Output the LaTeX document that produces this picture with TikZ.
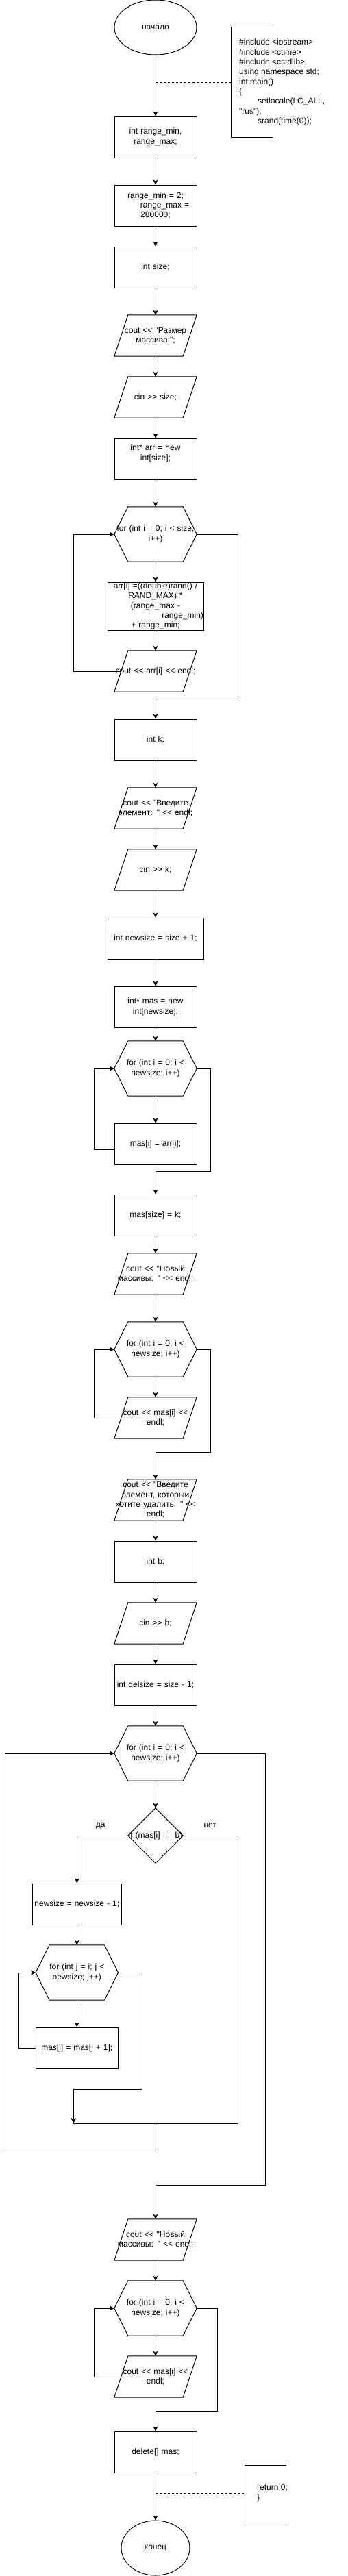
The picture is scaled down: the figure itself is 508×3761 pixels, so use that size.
\documentclass[tikz,border=0pt]{standalone}
\usepackage{fontspec}
\newfontfamily\dio{Liberation Sans}
\usetikzlibrary{shapes.geometric,arrows.meta}
\tikzset{
  base/.style={font=\dio\fontsize{12}{14.3}\selectfont, inner sep=0pt, align=center},
  proc/.style={base, draw, line width=1pt, rectangle, minimum width=120pt, minimum height=60pt, text width=120pt},
  wproc/.style={proc, minimum width=140pt, text width=140pt},
  io/.style={base, rectangle, minimum width=120pt, minimum height=60pt, text width=120pt},
  hexa/.style={base, rectangle, minimum width=120pt, minimum height=80pt, text width=120pt},
  dia/.style={base, rectangle, minimum width=80pt, minimum height=80pt, text width=80pt},
  term/.style={base, draw, line width=1pt, ellipse, minimum width=120pt, minimum height=80pt},
  note/.style={base, rectangle, anchor=west, align=left},
  shp/.style={draw, line width=1pt},
  plain/.style={line width=1pt},
  conn/.style={line width=1pt, -{Stealth[length=7pt,width=7pt,inset=1.8pt]}},
  dline/.style={line width=1pt, dashed},
}
\newcommand\paraout[1]{\draw[shp] ([xshift=20pt]#1.north west) -- (#1.north east) -- ([xshift=-20pt]#1.south east) -- (#1.south west) -- cycle;}
\newcommand\hexout[1]{\draw[shp] ([xshift=20pt]#1.north west) -- ([xshift=-20pt]#1.north east) -- (#1.east) -- ([xshift=-20pt]#1.south east) -- ([xshift=20pt]#1.south west) -- (#1.west) -- cycle;}
\newcommand\diaout[1]{\draw[shp] (#1.north) -- (#1.east) -- (#1.south) -- (#1.west) -- cycle;}
\newcommand\brackout[1]{\draw[plain] (#1.north east) -- (#1.north west) -- (#1.south west) -- (#1.south east);}
\begin{document}
\begin{tikzpicture}[x=1pt,y=-1pt]
\fill[white] (0,0) rectangle (508,3761);
\useasboundingbox (0,0) rectangle (508,3761);

% nodes
\node[term] (start) at (227,40) {начало};
\node[rectangle, minimum width=60pt, minimum height=160pt, inner sep=0pt] (n1) at (367.3,120) {};
\brackout{n1}
\node[note] (n1t) at (349,120) {\#include <iostream>\\\#include <ctime>\\\#include <cstdlib>\\using namespace std;\\int main()\\\{\\\hspace*{27pt}setlocale(LC\_ALL,\\"rus");\\\hspace*{27pt}srand(time(0));};
\coordinate (c1) at (227,120);

\node[proc] (b1) at (227,200) {int range\_min,\\range\_max;};
\node[proc] (b2) at (227,300) {range\_min = 2;\\\hspace*{27pt}range\_max =\\280000;};
\node[proc] (b3) at (227,390) {int size;};
\node[io] (p1) at (227,490) {cout << "Размер\\массива:";}; \paraout{p1}
\node[io] (p2) at (227,580) {cin >> size;}; \paraout{p2}
\node[proc] (b4) at (227,670) {int* arr = new\\int[size];\\\strut};
\node[hexa] (h1) at (227,780) {for (int i = 0; i < size;\\i++)}; \hexout{h1}
\node[wproc, minimum height=70pt] (b5) at (227,885) {arr[i] =((double)rand() /\\RAND\_MAX) *\\(range\_max -\\\hspace*{0pt plus 1filll}range\_min)\\+ range\_min;};
\node[io] (p3) at (227,980) {cout << arr[i] << endl;}; \paraout{p3}
\node[proc] (bk) at (227,1080) {int k;};
\node[io] (p4) at (227,1180) {cout << "Введите\\элемент: " << endl;}; \paraout{p4}
\node[io] (p5) at (227,1270) {cin >> k;}; \paraout{p5}
\node[wproc] (b6) at (227,1370) {int newsize = size + 1;};
\node[proc] (b7) at (227,1470) {int* mas = new\\int[newsize];};
\node[hexa] (h2) at (227,1560) {for (int i = 0; i <\\newsize; i++)}; \hexout{h2}
\node[proc] (b8) at (227,1670) {mas[i] = arr[i];};
\node[proc] (b9) at (227,1774) {mas[size] = k;};
\node[io] (p6) at (227,1860) {cout << "Новый\\массивы: " << endl;}; \paraout{p6}
\node[hexa] (h3) at (227,1970) {for (int i = 0; i <\\newsize; i++)}; \hexout{h3}
\node[io] (p7) at (227,2070) {cout << mas[i] <<\\endl;}; \paraout{p7}
\node[io] (p8) at (227,2190) {cout << "Введите\\элемент, который\\хотите удалить: " <<\\endl;}; \paraout{p8}
\node[proc] (b10) at (227,2280) {int b;};
\node[io] (p9) at (227,2370) {cin >> b;}; \paraout{p9}
\node[proc] (b11) at (227,2460) {int delsize = size - 1;};
\node[hexa] (h4) at (227,2560) {for (int i = 0; i <\\newsize; i++)}; \hexout{h4}
\node[dia] (d1) at (227,2680) {if (mas[i] == b)}; \diaout{d1}
\node[base] (yes) at (146.7,2665) {да};
\node[base] (no) at (306.7,2665) {нет};
\node[proc, minimum width=130pt, text width=130pt] (b12) at (112.3,2780) {newsize = newsize - 1;};
\node[hexa] (h5) at (112.3,2880) {for (int j = i; j <\\newsize; j++)}; \hexout{h5}
\node[proc] (b13) at (112.3,2990) {mas[j] = mas[j + 1];};
\coordinate (j1) at (107.3,3100);
\coordinate (j2) at (227,3100);
\node[io] (p10) at (227,3270) {cout << "Новый\\массивы: " << endl;}; \paraout{p10}
\node[hexa] (h6) at (227,3370) {for (int i = 0; i <\\newsize; i++)}; \hexout{h6}
\node[io] (p11) at (227,3470) {cout << mas[i] <<\\endl;}; \paraout{p11}
\node[proc] (b14) at (227,3580) {delete[] mas;};
\node[term, minimum width=100pt] (end) at (227,3720) {конец};
\node[rectangle, minimum width=60.4pt, minimum height=80pt, inner sep=0pt] (n2) at (387.5,3640) {};
\brackout{n2}
\node[note] (n2t) at (375,3640) {return 0;\\\}};
\coordinate (c2) at (227,3640);

% connectors
\draw[conn] (start) -- (b1);
\draw[dline] (c1) -- (n1.west);
\draw[conn] (b1) -- (b2);
\draw[conn] (b2) -- (b3);
\draw[conn] (b3) -- (p1);
\draw[conn] (p1) -- (p2);
\draw[conn] (p2) -- (b4);
\draw[conn] (b4) -- (h1);
\draw[conn] (h1) -- (b5);
\draw[conn] (b5) -- (p3);
\draw[conn] ([xshift=10pt]p3.west) -- (107.3,980) -- (107.3,780) -- (h1.west);
\draw[conn] (h1.east) -- (347.3,780) -- (347.3,1020) -| (bk.north);
\draw[conn] (bk) -- (p4);
\draw[conn] (p4) -- (p5);
\draw[conn] (p5) -- (b6);
\draw[conn] (b6) -- (b7);
\draw[conn] (b7) -- (h2);
\draw[conn] (h2) -- (b8);
\draw[conn] ([yshift=-8pt]b8.west) -- (137.3,1678) |- (h2.west);
\draw[conn] (h2.east) -- (307.3,1560) -- (307.3,1710) -| (b9.north);
\draw[conn] (b9) -- (p6);
\draw[conn] (p6) -- (h3);
\draw[conn] (h3) -- (p7);
\draw[conn] ([xshift=10pt]p7.west) -- (137.3,2070) |- (h3.west);
\draw[conn] (h3.east) -- (307.3,1970) -- (307.3,2120) -| (p8.north);
\draw[conn] (p8) -- (b10);
\draw[conn] (b10) -- (p9);
\draw[conn] (p9) -- (b11);
\draw[conn] (b11) -- (h4);
\draw[conn] (h4) -- (d1);
\draw[conn] (d1.west) -| (b12.north);
\draw[conn] (b12) -- (h5);
\draw[conn] (h5) -- (b13);
\draw[conn] (b13.west) -- (27.3,2990) |- (h5.west);
\draw[conn] (h5.east) -- (207.3,2880) -- (207.3,3050) -- (107.3,3050) -- (j1);
\draw[plain] (d1.east) -- (347.3,2680) -- (347.3,3100) -- (j1);
\draw[conn] (j2) -- (227,3140) -- (7.3,3140) -- (7.3,2560) -- (h4.west);
\draw[conn] (h4.east) -- (387.3,2560) -- (387.3,3190) -| (p10.north);
\draw[conn] (p10) -- (h6);
\draw[conn] (h6) -- (p11);
\draw[conn] ([xshift=10pt]p11.west) -- (137.3,3470) |- (h6.west);
\draw[conn] (h6.east) -- (317.3,3370) -- (317.3,3520) -| (b14.north);
\draw[conn] (b14) -- (end);
\draw[dline] (c2) -- (n2.west);
\end{tikzpicture}
\end{document}
